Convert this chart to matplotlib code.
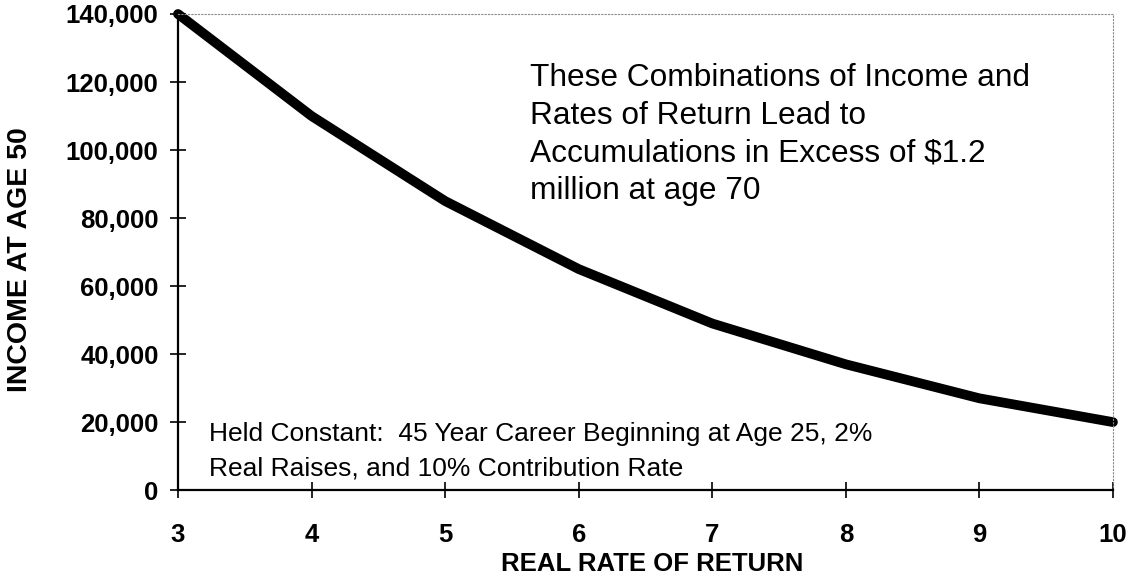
import matplotlib
matplotlib.use("Agg")
import matplotlib.pyplot as plt
from matplotlib.ticker import FuncFormatter

plt.rcParams['font.family'] = ['Liberation Sans', 'DejaVu Sans']

rate_of_return = [3, 4, 5, 6, 7, 8, 9, 10]
income_at_50 = [140000, 110000, 85000, 65000, 49000, 37000, 27000, 20000]
y_ticks = [0, 20000, 40000, 60000, 80000, 100000, 120000, 140000]

W, H = 1138, 578
fig = plt.figure(figsize=(W / 100, H / 100), dpi=100)
ax = fig.add_axes([0.1564, 0.152, 0.978 - 0.1564, 0.9758 - 0.152])

ax.plot(rate_of_return, income_at_50, color='black', lw=7,
        solid_capstyle='round', solid_joinstyle='round', clip_on=False)

ax.set_xlim(3, 10)
ax.set_ylim(0, 140000)
ax.set_xticks(rate_of_return)
ax.set_yticks(y_ticks)
ax.yaxis.set_major_formatter(FuncFormatter(lambda v, p: f"{int(v):,}"))

ax.tick_params(axis='both', direction='inout', length=12, width=1.2,
               labelsize=18.5, colors='black')
ax.tick_params(axis='x', pad=18)
ax.tick_params(axis='y', pad=8)
for lab in ax.get_xticklabels() + ax.get_yticklabels():
    lab.set_fontweight('bold')

for s in ['left', 'bottom']:
    ax.spines[s].set_linewidth(1.6)
    ax.spines[s].set_color('black')
for s in ['top', 'right']:
    ax.spines[s].set_linestyle((0, (1, 2)))
    ax.spines[s].set_color('#888888')
    ax.spines[s].set_linewidth(0.8)

fig.text(652 / W, 1 - 564 / H, 'REAL RATE OF RETURN', fontsize=18.5,
         fontweight='bold', ha='center', va='center')
fig.text(20 / W, 1 - 260 / H, 'INCOME AT AGE 50', fontsize=20.5,
         fontweight='bold', ha='center', va='center', rotation=90)

ax.text(0.376, 0.897,
        'These Combinations of Income and\nRates of Return Lead to\n'
        'Accumulations in Excess of $1.2\nmillion at age 70',
        transform=ax.transAxes, fontsize=22.8, va='top', ha='left',
        linespacing=1.34)

ax.text(0.033, 0.143,
        'Held Constant:  45 Year Career Beginning at Age 25, 2%\n'
        'Real Raises, and 10% Contribution Rate',
        transform=ax.transAxes, fontsize=19, va='top', ha='left',
        linespacing=1.55)

fig.savefig('out.png', dpi=100)
